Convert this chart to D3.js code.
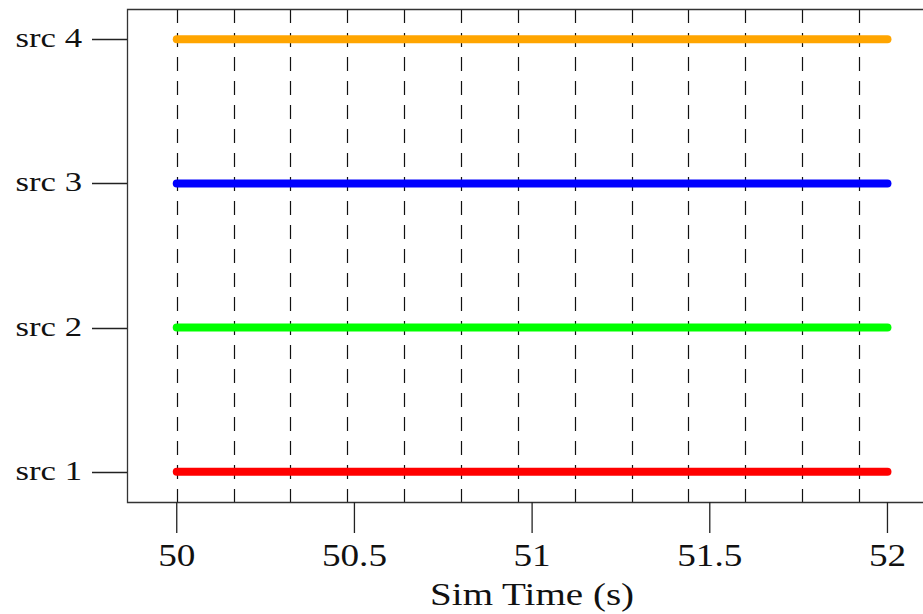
<!DOCTYPE html>
<html>
<head>
<meta charset="utf-8">
<script src="https://cdn.jsdelivr.net/npm/d3@7"></script>
<style>
  body { margin: 0; background: #fff; }
  svg text { font-family: "Liberation Serif", "Times New Roman", serif; fill: #111; }
</style>
</head>
<body>
<svg id="chart" width="923" height="614"></svg>
<script>
// source activity timeline, sim time 50..52 s

const sources = ["src 1", "src 2", "src 3", "src 4"];
const srcColors = ["#ff0000", "#00ff00", "#0000ff", "#ffa500"];
const startTimes = [50, 50, 50, 50];
const endTimes = [52, 52, 52, 52];
const gridTimes = [50, 50.16, 50.32, 50.48, 50.64, 50.8, 50.96, 51.12, 51.28, 51.44, 51.6, 51.76, 51.92];
const xTicks = [50, 50.5, 51, 51.5, 52];
const xTickLabels = ["50", "50.5", "51", "51.5", "52"];
const xLabel = "Sim Time (s)";

var margin = { top: 9, left: 127, bottom: 112 };
var width = 923, height = 614;

var svg = d3.select('#chart');

var x = d3.scaleLinear().domain([49.86, 52.1]).range([margin.left, 923]);
var y = d3.scaleLinear().domain([0.79, 4.21]).range([height - margin.bottom, margin.top]);

var yBottom = height - margin.bottom;

// text in the original is drawn a little wide
function wide(tx, ty, s) {
  return 'translate(' + tx + ',' + ty + ') scale(' + s + ',1)';
}

// dashed grid
svg.append('g')
  .selectAll('line')
  .data(gridTimes)
  .enter().append('line')
  .attr('x1', function (d) { return Math.round(x(d)) + 0.5; })
  .attr('x2', function (d) { return Math.round(x(d)) + 0.5; })
  .attr('y1', margin.top)
  .attr('y2', yBottom)
  .attr('stroke', '#111')
  .attr('stroke-width', 1.2)
  .attr('stroke-dasharray', '14,10');

// the source lines
var rows = sources.map(function (s, i) {
  return { name: s, color: srcColors[i], start: startTimes[i], end: endTimes[i], idx: i + 1 };
});

svg.append('g')
  .selectAll('line')
  .data(rows)
  .enter().append('line')
  .attr('x1', function (d) { return x(d.start); })
  .attr('x2', function (d) { return x(d.end); })
  .attr('y1', function (d) { return y(d.idx); })
  .attr('y2', function (d) { return y(d.idx); })
  .attr('stroke', function (d) { return d.color; })
  .attr('stroke-width', 8)
  .attr('stroke-linecap', 'round');

// box (right side is off the canvas)
svg.append('path')
  .attr('d', 'M950,' + (margin.top + 0.5) + 'H' + (margin.left + 0.5) + 'V' + (yBottom + 0.5) + 'H950')
  .attr('fill', 'none')
  .attr('stroke', '#333')
  .attr('stroke-width', 1.3);

// x axis
var xAxis = svg.append('g');
xAxis.selectAll('line')
  .data(xTicks)
  .enter().append('line')
  .attr('x1', function (d) { return x(d); })
  .attr('x2', function (d) { return x(d); })
  .attr('y1', yBottom)
  .attr('y2', yBottom + 31)
  .attr('stroke', '#222')
  .attr('stroke-width', 1.3);

xAxis.selectAll('text')
  .data(xTicks)
  .enter().append('text')
  .attr('transform', function (d) { return wide(x(d), 566, 1.2); })
  .attr('text-anchor', 'middle')
  .style('font-size', '31px')
  .text(function (d, i) { return xTickLabels[i]; });

svg.append('text')
  .attr('transform', wide(x(51), 605, 1.26))
  .attr('text-anchor', 'middle')
  .style('font-size', '31px')
  .text(xLabel);

// y axis
var yAxis = svg.append('g');
yAxis.selectAll('line')
  .data(rows)
  .enter().append('line')
  .attr('x1', margin.left - 35)
  .attr('x2', margin.left)
  .attr('y1', function (d) { return Math.round(y(d.idx)) + 0.5; })
  .attr('y2', function (d) { return Math.round(y(d.idx)) + 0.5; })
  .attr('stroke', '#222')
  .attr('stroke-width', 1.3);

yAxis.selectAll('text')
  .data(rows)
  .enter().append('text')
  .attr('transform', function (d) { return wide(margin.left - 45, y(d.idx) + 8, 1.24); })
  .attr('text-anchor', 'end')
  .style('font-size', '28px')
  .text(function (d) { return d.name; });
</script>
</body>
</html>
